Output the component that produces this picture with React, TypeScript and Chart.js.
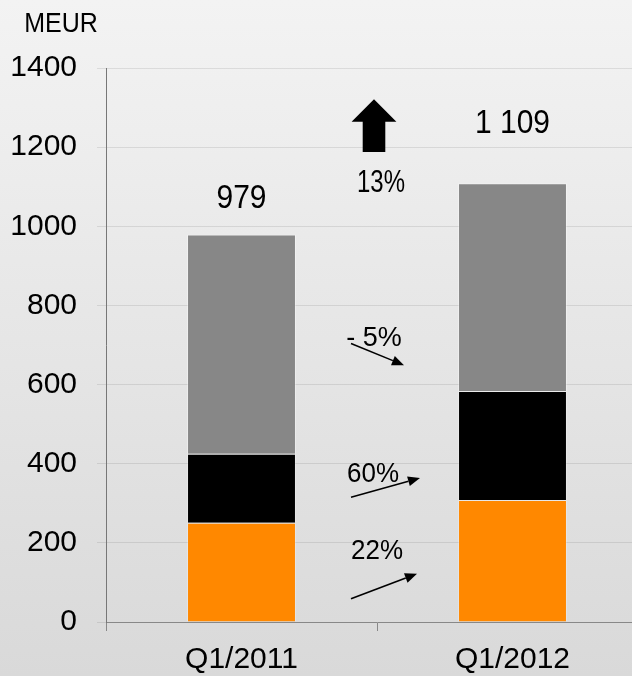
import React, { useEffect, useRef } from 'react';
import { Chart, registerables } from 'chart.js';

Chart.register(...registerables);

const categories = ['Q1/2011', 'Q1/2012'];
const orangeValues = [251, 308];
const blackValues = [174, 276];
const grayValues = [554, 525];
const yTickValues = [0, 200, 400, 600, 800, 1000, 1200, 1400];
const unitLabel = 'MEUR';
const changeTotal = '13%';
const changeGray = '- 5%';
const changeBlack = '60%';
const changeOrange = '22%';

const FONT = "'Liberation Sans', Arial, sans-serif";

function formatTotal(v: number): string {
  const s = String(Math.round(v));
  return s.replace(/\B(?=(\d{3})+(?!\d))/g, ' ');
}

const decorPlugin = {
  id: 'decor',
  beforeDraw(chart: any) {
    const { ctx, width, height } = chart;
    ctx.save();
    const g = ctx.createLinearGradient(0, 0, 0, height);
    g.addColorStop(0, '#f3f3f3');
    g.addColorStop(1, '#d9d9d9');
    ctx.fillStyle = g;
    ctx.fillRect(0, 0, width, height);
    ctx.restore();
  },
  afterDraw(chart: any) {
    const { ctx } = chart;
    const x = chart.scales.x;
    const y = chart.scales.y;
    const midX = (x.getPixelForValue(0) + x.getPixelForValue(1)) / 2;
    const yp = (v: number) => y.getPixelForValue(v);

    const text = (t: string, cx: number, capCenterY: number, size: number, sx = 1, sy = 1, weight = '') => {
      ctx.save();
      ctx.translate(cx, capCenterY);
      ctx.scale(sx, sy);
      ctx.font = `${weight} ${size}px ${FONT}`;
      ctx.fillStyle = '#000';
      ctx.textAlign = 'center';
      ctx.textBaseline = 'alphabetic';
      ctx.fillText(t, 0, 0.358 * size);
      ctx.restore();
    };

    ctx.save();
    // unit label
    text(unitLabel, 61, 22, 25, 1, 1.1);

    // totals above bars
    const offsets = [38, 62];
    categories.forEach((_, i) => {
      const total = orangeValues[i] + blackValues[i] + grayValues[i];
      const px = x.getPixelForValue(i);
      text(formatTotal(total), px, yp(total) - offsets[i], 30, 1, 1.08);
    });

    // big arrow
    const ax = midX - 3;
    const top = yp(1321), headBase = yp(1264), bottom = yp(1188);
    ctx.fillStyle = '#000';
    ctx.beginPath();
    ctx.moveTo(ax, top);
    ctx.lineTo(ax + 22.4, headBase);
    ctx.lineTo(ax + 11.3, headBase);
    ctx.lineTo(ax + 11.3, bottom);
    ctx.lineTo(ax - 11.3, bottom);
    ctx.lineTo(ax - 11.3, headBase);
    ctx.lineTo(ax - 22.4, headBase);
    ctx.closePath();
    ctx.fill();

    text(changeTotal, midX + 4, yp(1115), 30, 0.8, 1.05, '300');
    text(changeGray, midX - 3, yp(723), 27, 1, 1.05);
    text(changeBlack, midX - 4, yp(379), 26, 1, 1.05);
    text(changeOrange, midX, yp(185), 26, 1, 1.05);

    const arrows = [
      { x1: -26, v1: 704, x2: 27, v2: 649 },
      { x1: -26, v1: 315, x2: 43, v2: 364 },
      { x1: -26, v1: 59, x2: 40, v2: 122 },
    ];
    arrows.forEach((a) => {
      const x1 = midX + a.x1, y1 = yp(a.v1), x2 = midX + a.x2, y2 = yp(a.v2);
      const ang = Math.atan2(y2 - y1, x2 - x1);
      const hl = 12, hw = 5;
      const bx = x2 - hl * Math.cos(ang), by = y2 - hl * Math.sin(ang);
      ctx.strokeStyle = '#000';
      ctx.fillStyle = '#000';
      ctx.lineWidth = 1.6;
      ctx.beginPath();
      ctx.moveTo(x1, y1);
      ctx.lineTo(bx, by);
      ctx.stroke();
      ctx.beginPath();
      ctx.moveTo(x2, y2);
      ctx.lineTo(bx + hw * Math.sin(ang), by - hw * Math.cos(ang));
      ctx.lineTo(bx - hw * Math.sin(ang), by + hw * Math.cos(ang));
      ctx.closePath();
      ctx.fill();
    });
    ctx.restore();
  },
};

export default function App() {
  const ref = useRef<HTMLCanvasElement | null>(null);
  useEffect(() => {
    if (!ref.current) return;
    const chart = new Chart(ref.current, {
      type: 'bar',
      data: {
        labels: categories,
        datasets: [
          { label: 'Orange', data: orangeValues, backgroundColor: '#ff8800', borderColor: 'rgba(255,255,255,0.25)', borderWidth: 1 },
          { label: 'Black', data: blackValues, backgroundColor: '#000000', borderColor: 'rgba(255,255,255,0.25)', borderWidth: 1 },
          { label: 'Gray', data: grayValues, backgroundColor: '#878787', borderColor: 'rgba(255,255,255,0.35)', borderWidth: 1 },
        ],
      },
      options: {
        animation: false,
        responsive: false,
        maintainAspectRatio: false,
        layout: { padding: { left: 0, right: 12, top: 68, bottom: 0 } },
        plugins: { legend: { display: false }, tooltip: { enabled: false } },
        datasets: { bar: { barPercentage: 0.402, categoryPercentage: 1 } },
        scales: {
          x: {
            stacked: true,
            grid: { display: true, drawOnChartArea: false, drawTicks: true, tickLength: 9, color: '#888', offset: true },
            border: { display: true, color: '#888', width: 1 },
            ticks: { color: '#000', font: { family: FONT, size: 30 }, padding: 11 },
            afterFit: (s: any) => { s.height = 54; },
          },
          y: {
            stacked: true,
            min: 0,
            max: 1400,
            afterBuildTicks: (s: any) => { s.ticks = yTickValues.map((v) => ({ value: v })); },
            grid: { color: 'rgba(0,0,0,0.09)', tickLength: 9, lineWidth: 1 },
            border: { display: true, color: '#777', width: 1 },
            ticks: { color: '#000', font: { family: FONT, size: 30 }, padding: 20, callback: (v: any) => String(v) },
            afterFit: (s: any) => { s.width = 106; },
          },
        },
      },
      plugins: [decorPlugin],
    } as any);
    return () => chart.destroy();
  }, []);
  return (
    <div style={{ position: 'fixed', left: 0, top: 0, width: 632, height: 676, overflow: 'hidden', background: '#e6e6e6' }}>
      <canvas ref={ref} width={660} height={676} style={{ display: 'block', width: 660, height: 676 }} />
    </div>
  );
}
